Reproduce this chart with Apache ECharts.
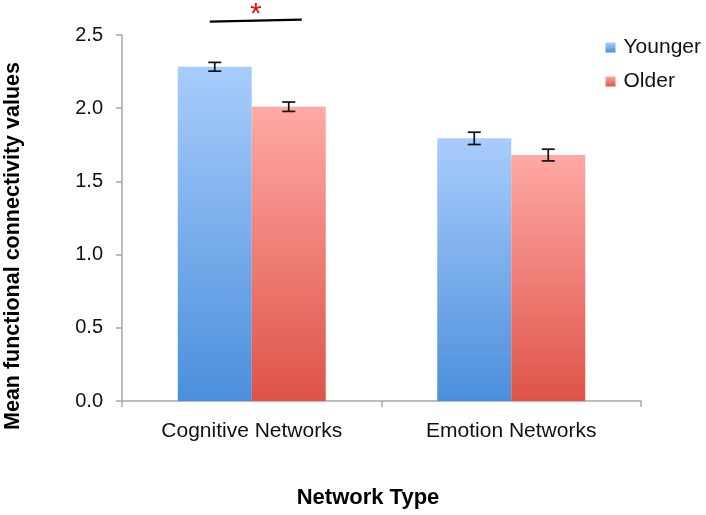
<!DOCTYPE html>
<html>
<head>
<meta charset="utf-8">
<script src="https://cdn.jsdelivr.net/npm/echarts@6/dist/echarts.min.js"></script>
<style>html,body{margin:0;padding:0;background:#fff;}#c{width:706px;height:515px;}</style>
</head>
<body>
<div id="c"></div>
<script>
var categories = ['Cognitive Networks', 'Emotion Networks'];
var seriesNames = ['Younger', 'Older'];
var youngerValues = [2.283, 1.794];
var olderValues = [2.010, 1.680];
var youngerErrors = [0.030, 0.042];
var olderErrors = [0.032, 0.040];
var yTicks = [0, 0.5, 1.0, 1.5, 2.0, 2.5];
var sigLevel = 2.598;
var sigLabel = '*';

var chart = echarts.init(document.getElementById('c'), null, {renderer: 'canvas'});
var FONT = 'Liberation Sans, Arial, sans-serif';

function grad(top, bottom) {
  return new echarts.graphic.LinearGradient(0, 0, 0, 1, [
    {offset: 0, color: top}, {offset: 1, color: bottom}
  ]);
}
var blue = grad('#a8ccfc', '#4b8fdb');
var red = grad('#ffa9a5', '#de5347');

var BAR_W = 74;

function errorRender(offsetSign) {
  return function (params, api) {
    var i = api.value(0);
    var v = api.value(1);
    var e = api.value(2);
    var c = api.coord([i, v]);
    var x = c[0] + offsetSign * BAR_W / 2;
    var hi = api.coord([i, v + e])[1];
    var lo = api.coord([i, v - e])[1];
    var hw = 6.5;
    var st = {stroke: '#111', lineWidth: 1.7};
    return {
      type: 'group',
      children: [
        {type: 'line', shape: {x1: x, y1: hi, x2: x, y2: lo}, style: st},
        {type: 'line', shape: {x1: x - hw, y1: hi, x2: x + hw, y2: hi}, style: st},
        {type: 'line', shape: {x1: x - hw, y1: lo, x2: x + hw, y2: lo}, style: st}
      ]
    };
  };
}

var option = {
  backgroundColor: '#fff',
  animation: false,
  grid: {left: 122, right: 65, top: 35, bottom: 114, containLabel: false},
  legend: {
    data: seriesNames,
    orient: 'vertical',
    right: 0,
    top: 32,
    icon: 'rect',
    itemWidth: 10,
    itemHeight: 10,
    itemGap: 13,
    textStyle: {fontFamily: FONT, fontSize: 21, color: '#111', padding: [0, 0, 0, 3]}
  },
  xAxis: {
    type: 'category',
    data: categories,
    axisLine: {lineStyle: {color: '#a6a6a6', width: 1.5}},
    axisTick: {show: true, length: 6, lineStyle: {color: '#a6a6a6', width: 1.5}},
    axisLabel: {fontFamily: FONT, fontSize: 21, color: '#111', margin: 20}
  },
  yAxis: {
    type: 'value',
    min: 0,
    max: 2.5,
    interval: 0.5,
    axisLine: {show: true, lineStyle: {color: '#a6a6a6', width: 1.5}},
    axisTick: {show: true, length: 6, lineStyle: {color: '#a6a6a6', width: 1.5}},
    splitLine: {show: false},
    axisLabel: {
      fontFamily: FONT, fontSize: 20, color: '#111', margin: 19,
      formatter: function (v) { return yTicks.indexOf(v) >= 0 ? v.toFixed(1) : ''; }
    }
  },
  graphic: [
    {
      type: 'text', rotation: Math.PI / 2,
      x: 13, y: 246,
      style: {text: 'Mean functional connectivity values', fontFamily: FONT, fontSize: 21.5,
        fontWeight: 'bold', fill: '#000', align: 'center', verticalAlign: 'middle'}
    },
    {
      type: 'text', x: 368, y: 498,
      style: {text: 'Network Type', fontFamily: FONT, fontSize: 22, fontWeight: 'bold',
        fill: '#000', align: 'center', verticalAlign: 'middle'}
    }
  ],
  series: [
    {
      name: 'Younger', type: 'bar', data: youngerValues, barWidth: BAR_W, barGap: '0%',
      itemStyle: {color: blue}
    },
    {
      name: 'Older', type: 'bar', data: olderValues, barWidth: BAR_W, barGap: '0%',
      itemStyle: {color: red}
    },
    {
      type: 'custom', name: 'errY', z: 10,
      data: categories.map(function (c, i) { return [i, youngerValues[i], youngerErrors[i]]; }),
      renderItem: errorRender(-1),
      encode: {x: 0, y: 1}
    },
    {
      type: 'custom', name: 'errO', z: 10,
      data: categories.map(function (c, i) { return [i, olderValues[i], olderErrors[i]]; }),
      renderItem: errorRender(1),
      encode: {x: 0, y: 1}
    },
    {
      type: 'custom', name: 'sig', z: 10, clip: false,
      data: [[0, sigLevel]],
      encode: {x: 0, y: 1},
      renderItem: function (params, api) {
        var c = api.coord([api.value(0), api.value(1)]);
        return {
          type: 'group',
          children: [
            {type: 'line', shape: {x1: c[0] - 42, y1: c[1] + 1, x2: c[0] + 50, y2: c[1] - 1},
              style: {stroke: '#000', lineWidth: 2.2}},
            {type: 'text', x: c[0] + 4, y: c[1] - 21,
              style: {text: sigLabel, fill: '#f20d0d', fontFamily: FONT, fontSize: 30,
                align: 'center', verticalAlign: 'top'}}
          ]
        };
      }
    }
  ]
};
chart.setOption(option);
</script>
</body>
</html>
